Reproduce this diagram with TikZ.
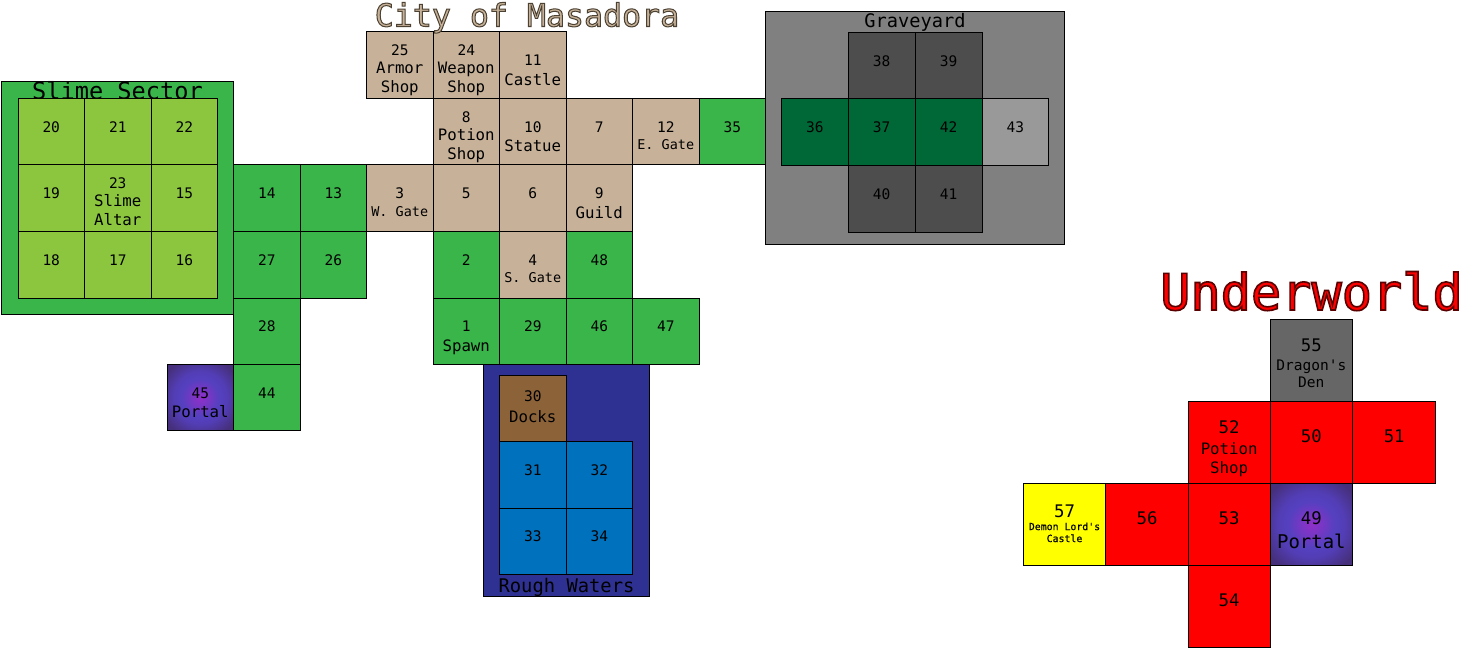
\documentclass[tikz,border=0pt]{standalone}
\usepackage{fontspec}
\setmainfont{DejaVu Sans Mono}
\newfontfamily\plainmono{DejaVu Sans Mono}
\newfontfamily\outlinefont[FakeBold=3.2]{DejaVu Sans Mono}
\newfontfamily\heavyfont[FakeBold=0.6]{DejaVu Sans Mono}
\definecolor{grass}{HTML}{39B54A}
\definecolor{slimeg}{HTML}{8CC63F}
\definecolor{stone}{HTML}{C7B299}
\definecolor{deepg}{HTML}{006837}
\definecolor{grave}{HTML}{808080}
\definecolor{tomb}{HTML}{4D4D4D}
\definecolor{pale}{HTML}{999999}
\definecolor{navy}{HTML}{2E3192}
\definecolor{sea}{HTML}{0071BC}
\definecolor{dock}{HTML}{8C6239}
\definecolor{den}{HTML}{666666}
\definecolor{lava}{HTML}{FF0000}
\definecolor{lemon}{HTML}{FFFF00}
\definecolor{glowa}{HTML}{9030C8}
\definecolor{glowb}{HTML}{5540C0}
\definecolor{glowc}{HTML}{46307C}
\pgfdeclareradialshading{portalglow}{\pgfpoint{0bp}{0bp}}{%
 color(0bp)=(glowa);
 color(7bp)=(glowa!55!glowb);
 color(14bp)=(glowb);
 color(20bp)=(glowb!85!glowc);
 color(31bp)=(glowc);
 color(100bp)=(glowc)}
\newcommand{\numf}{\fontsize{10.9pt}{14.25pt}\selectfont}
\newcommand{\bignum}{\fontsize{13pt}{14.25pt}\selectfont}
\newcommand{\gatef}{\fontsize{10.1pt}{14.25pt}\selectfont}
\newcommand{\rt}[2]{\smash{\raisebox{#1}{\begin{tabular}[t]{@{}c@{}}#2\end{tabular}}}}
\newcommand{\one}[1]{\rt{-0.5pt}{\numf #1}}
\newcommand{\two}[2]{\rt{-0.4pt}{\numf #1\\[0.4pt] #2}}
\newcommand{\gate}[2]{\rt{-0.4pt}{\numf #1\\[-1.3pt] \gatef #2}}
\newcommand{\three}[3]{\rt{7.3pt}{\numf #1\\[-0.4pt] #2\\ #3}}
\newcommand{\glyphoutline}[1]{\special{pdf:code #1 RG}}
\newcommand{\room}[7]{\node[roombox,fill=#6,minimum width=#4*0.75pt,minimum height=#5*0.75pt] (#1) at ({#2+#4/2},{#3+#5/2}) {#7};}
\newcommand{\glowroom}[6]{\node[roombox,shade,shading=portalglow,minimum width=#4*0.75pt,minimum height=#5*0.75pt] (#1) at ({#2+#4/2},{#3+#5/2}) {#6};}
\tikzset{
  roombox/.style={draw=black,line width=0.75pt,rectangle,inner sep=0pt,outer sep=0pt,
    font=\fontsize{11.8pt}{14.25pt}\selectfont,text=black},
  regiontitle/.style={anchor=base,inner sep=0pt,text=black}
}
\begin{document}
\begin{tikzpicture}[x=0.75pt,y=-0.75pt]
\useasboundingbox (0,0) rectangle (1466,649);
% regions
\room{slime}{1.5}{82}{232}{232}{grass}{}
\node[regiontitle,font=\fontsize{17.7pt}{20pt}\selectfont] (slimetitle) at (117.5,100) {Slime Sector};
\room{grave}{765.5}{12}{298.5}{232}{grave}{}
\node[regiontitle,font=\fontsize{14pt}{16pt}\selectfont] (gravetitle) at (915,27.5) {Graveyard};
\room{water}{483.5}{364.5}{165.5}{232}{navy}{}
\node[regiontitle,font=\fontsize{14.1pt}{16pt}\selectfont] (watertitle) at (566.5,592) {Rough Waters};
% slime sector
\room{r20}{18}{98.5}{66.5}{66.5}{slimeg}{\one{20}}
\room{r21}{84.5}{98.5}{66.5}{66.5}{slimeg}{\one{21}}
\room{r22}{151}{98.5}{66.5}{66.5}{slimeg}{\one{22}}
\room{r19}{18}{165}{66.5}{66.5}{slimeg}{\one{19}}
\room{r23}{84.5}{165}{66.5}{66.5}{slimeg}{\three{23}{Slime}{Altar}}
\room{r15}{151}{165}{66.5}{66.5}{slimeg}{\one{15}}
\room{r18}{18}{231.5}{66.5}{66.5}{slimeg}{\one{18}}
\room{r17}{84.5}{231.5}{66.5}{66.5}{slimeg}{\one{17}}
\room{r16}{151}{231.5}{66.5}{66.5}{slimeg}{\one{16}}
% fields west
\room{r14}{233.5}{165}{66.5}{66.5}{grass}{\one{14}}
\room{r13}{300}{165}{66.5}{66.5}{grass}{\one{13}}
\room{r27}{233.5}{231.5}{66.5}{66.5}{grass}{\one{27}}
\room{r26}{300}{231.5}{66.5}{66.5}{grass}{\one{26}}
\room{r28}{233.5}{298}{66.5}{66.5}{grass}{\one{28}}
\room{r44}{233.5}{364.5}{66.5}{66}{grass}{\one{44}}
\glowroom{r45}{167}{364.5}{66.5}{66}{\two{45}{Portal}}
% city
\room{r25}{366.5}{32}{66.5}{66.5}{stone}{\three{25}{Armor}{Shop}}
\room{r24}{433}{32}{66.5}{66.5}{stone}{\three{24}{Weapon}{Shop}}
\room{r11}{499.5}{32}{66.5}{66.5}{stone}{\two{11}{Castle}}
\room{r8}{433}{98.5}{66.5}{66.5}{stone}{\three{8}{Potion}{Shop}}
\room{r10}{499.5}{98.5}{66.5}{66.5}{stone}{\two{10}{Statue}}
\room{r7}{566}{98.5}{66.5}{66.5}{stone}{\one{7}}
\room{r12}{632.5}{98.5}{66.5}{66.5}{stone}{\gate{12}{E. Gate}}
\room{r35}{699}{98.5}{66.5}{66.5}{grass}{\one{35}}
\room{r3}{366.5}{165}{66.5}{66.5}{stone}{\gate{3}{W. Gate}}
\room{r5}{433}{165}{66.5}{66.5}{stone}{\one{5}}
\room{r6}{499.5}{165}{66.5}{66.5}{stone}{\one{6}}
\room{r9}{566}{165}{66.5}{66.5}{stone}{\two{9}{Guild}}
\room{r2}{433}{231.5}{66.5}{66.5}{grass}{\one{2}}
\room{r4}{499.5}{231.5}{66.5}{66.5}{stone}{\gate{4}{S. Gate}}
\room{r48}{566}{231.5}{66.5}{66.5}{grass}{\one{48}}
\room{r1}{433}{298}{66.5}{66.5}{grass}{\two{1}{Spawn}}
\room{r29}{499.5}{298}{66.5}{66.5}{grass}{\one{29}}
\room{r46}{566}{298}{66.5}{66.5}{grass}{\one{46}}
\room{r47}{632.5}{298}{66.5}{66.5}{grass}{\one{47}}
% rough waters
\room{r30}{499.5}{375.5}{66.5}{65.5}{dock}{\rt{4.9pt}{\numf 30\\[1pt] Docks}}
\room{r31}{499.5}{441}{66.5}{67}{sea}{\one{31}}
\room{r32}{566}{441}{66.5}{67}{sea}{\one{32}}
\room{r33}{499.5}{508}{66.5}{66.5}{sea}{\one{33}}
\room{r34}{566}{508}{66.5}{66.5}{sea}{\one{34}}
% graveyard
\room{r38}{848}{33}{67}{66}{tomb}{\one{38}}
\room{r39}{915}{33}{67}{66}{tomb}{\one{39}}
\room{r40}{848}{165.5}{67}{67}{tomb}{\one{40}}
\room{r41}{915}{165.5}{67}{67}{tomb}{\one{41}}
\room{r36}{781.5}{99}{66.5}{66.5}{deepg}{\one{36}}
\room{r37}{848}{99}{67}{66.5}{deepg}{\one{37}}
\room{r42}{915}{99}{67}{66.5}{deepg}{\one{42}}
\room{r43}{982}{99}{66.5}{66.5}{pale}{\one{43}}
% underworld
\room{r55}{1270}{319.3}{82.7}{82}{den}{\rt{6.5pt}{\bignum 55\\[-0.2pt] \fontsize{10.9pt}{14.25pt}\selectfont Dragon{\plainmono'}s\\[-1.5pt] \fontsize{10.9pt}{14.25pt}\selectfont Den}}
\room{r52}{1188.3}{401.3}{81.7}{82}{lava}{\rt{6.5pt}{\bignum 52\\[1.4pt] Potion\\ Shop}}
\room{r50}{1270}{401.3}{82.7}{82}{lava}{\rt{0pt}{\bignum 50}}
\room{r51}{1352.7}{401.3}{83}{82}{lava}{\rt{0pt}{\bignum 51}}
\room{r57}{1023.3}{483.3}{82.4}{82}{lemon}{\rt{4.9pt}{\bignum 57\\[-5pt] \heavyfont\fontsize{7.4pt}{9pt}\selectfont Demon Lord's\\[-5.3pt] \heavyfont\fontsize{7.4pt}{9pt}\selectfont Castle}}
\room{r56}{1105.7}{483.3}{82.6}{82}{lava}{\rt{0pt}{\bignum 56}}
\room{r53}{1188.3}{483.3}{81.7}{82}{lava}{\rt{0pt}{\bignum 53}}
\glowroom{r49}{1270}{483.3}{82.7}{82}{\rt{0pt}{\bignum 49\\[2.8pt] \fontsize{14.2pt}{16pt}\selectfont Portal}}
\room{r54}{1188.3}{565.3}{81.7}{82.4}{lava}{\rt{0pt}{\bignum 54}}
% outlined titles
\node[regiontitle,text=stone,font=\outlinefont\fontsize{23.7pt}{26pt}\selectfont] (citytitle) at (527,26.5) {\glyphoutline{0.3 0.26 0.2}City of Masadora};
\node[regiontitle,text=lava,font=\outlinefont\fontsize{37.7pt}{40pt}\selectfont] (undertitle) at (1311.5,310) {\glyphoutline{0.35 0 0}Underworld};
\end{tikzpicture}
\end{document}
